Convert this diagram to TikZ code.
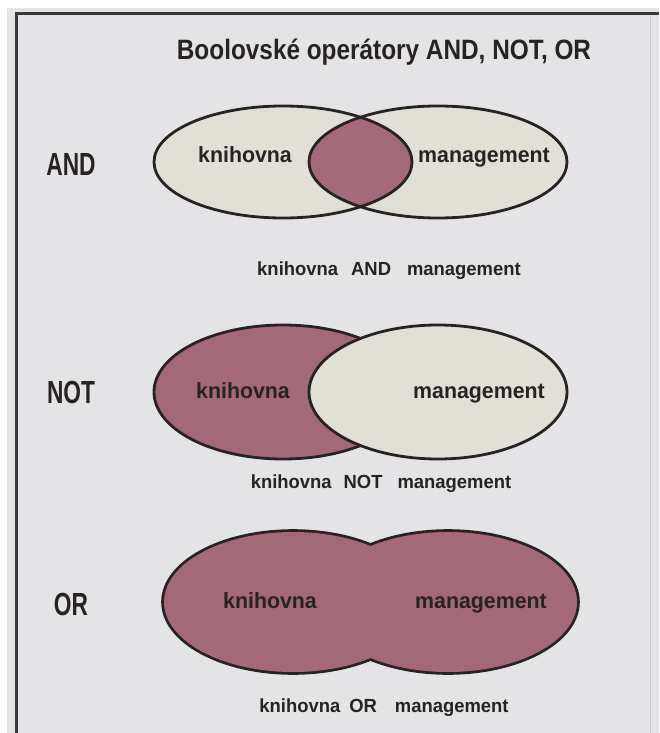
\documentclass[tikz,border=0pt]{standalone}
\usepackage{fontspec}
\setmainfont{Liberation Sans}[FakeStretch=0.97]
\newfontfamily\titlefont{Liberation Sans}[FakeStretch=0.87]
\newfontfamily\sidefont{Liberation Sans}[FakeStretch=0.71]
\definecolor{paper}{RGB}{228,228,230}
\definecolor{setfill}{RGB}{226,223,214}
\definecolor{hitfill}{RGB}{163,105,121}
\definecolor{inkline}{RGB}{40,34,36}
\definecolor{framegrey}{RGB}{58,58,60}

\begin{document}
\begin{tikzpicture}[
    x=1pt, y=-1pt,
    setline/.style={draw=inkline, line width=2.8pt},
    lbl/.style={font=\bfseries\fontsize{22}{24}\selectfont, text=inkline, anchor=base, inner sep=0pt},
    captext/.style={font=\bfseries\fontsize{19}{21}\selectfont, text=inkline, anchor=base, inner sep=0pt},
    opname/.style={font=\sidefont\bfseries\fontsize{32}{34}\selectfont, text=inkline, anchor=base, inner sep=0pt},
    rad/.style={x radius=129pt, y radius=#1}
    ]
    \useasboundingbox (0,0) rectangle (659,733);
    \fill[white] (0,0) rectangle (659,733);
    \fill[paper] (7,8) rectangle (659,733);
    \draw[framegrey, line width=3pt] (16.5,733) -- (16.5,14) -- (659,14);
    \draw[paper!88!black, line width=0.8pt] (650,16) -- (650,733);

    \node[font=\titlefont\bfseries\fontsize{28}{30}\selectfont, text=inkline, anchor=base, inner sep=0pt] (title) at (384,60) {Boolovské operátory AND, NOT, OR};

    \coordinate (andL) at (283,162);
    \coordinate (andR) at (438,162);
    \fill[setfill] (andL) ellipse [rad=56pt];
    \fill[setfill] (andR) ellipse [rad=56pt];
    \begin{scope}
      \clip (andL) ellipse [rad=56pt];
      \fill[hitfill] (andR) ellipse [rad=56pt];
    \end{scope}
    \draw[setline] (andL) ellipse [rad=56pt];
    \draw[setline] (andR) ellipse [rad=56pt];
    \node[opname] (andop) at (71,175) {AND};
    \node[lbl] (andk) at (245,162) {knihovna};
    \node[lbl] (andm) at (484,162) {management};
    \node[captext] (andcap) at (389,275) {knihovna\hspace{13pt}AND\hspace{16pt}management};

    \coordinate (notL) at (283,392);
    \coordinate (notR) at (438,392);
    \draw[setline, fill=hitfill] (notL) ellipse [rad=67pt];
    \draw[setline, fill=setfill] (notR) ellipse [rad=67pt];
    \node[opname] (notop) at (71,403) {NOT};
    \node[lbl] (notk) at (243,398) {knihovna};
    \node[lbl] (notm) at (479,398) {management};
    \node[captext] (notcap) at (381,488) {knihovna\hspace{12pt}NOT\hspace{15pt}management};

    \coordinate (orL) at (293,602);
    \coordinate (orR) at (448,602);
    \draw[draw=inkline, line width=5.6pt] (orL) ellipse [rad=70pt];
    \draw[draw=inkline, line width=5.6pt] (orR) ellipse [rad=70pt];
    \fill[hitfill] (orL) ellipse [rad=70pt];
    \fill[hitfill] (orR) ellipse [rad=70pt];
    \node[opname] (orop) at (71,615) {OR};
    \node[lbl] (ork) at (270,608) {knihovna};
    \node[lbl] (orm) at (481,608) {management};
    \node[captext] (orcap) at (384,712) {knihovna\hspace{9pt}OR\hspace{18pt}management};
  \end{tikzpicture}
\end{document}
